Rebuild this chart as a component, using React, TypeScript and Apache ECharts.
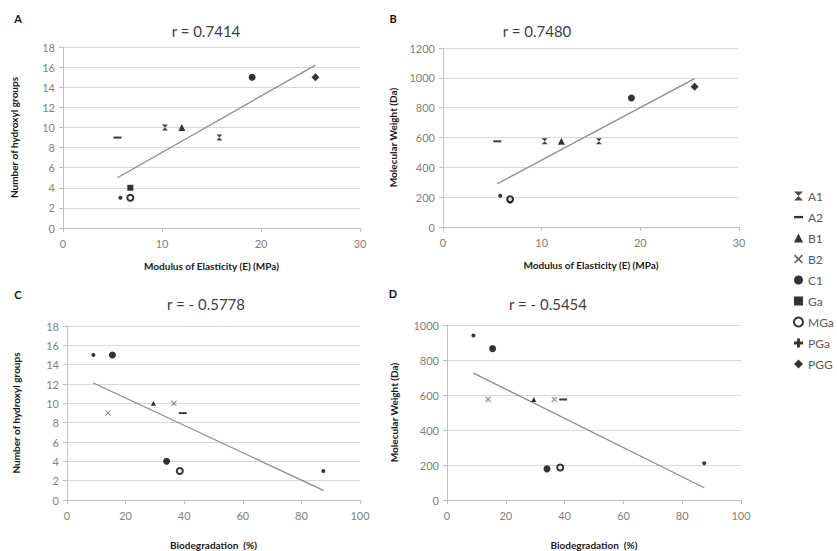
import React, { useEffect, useRef } from "react";
import * as echarts from "echarts";

// ---- data ----
const groups = ["A1", "A2", "B1", "B2", "C1", "Ga", "MGa", "PGa", "PGG"];
const modulus = [10.3, 5.5, 12.0, 15.8, 19.1, 6.8, 6.8, 5.8, 25.5]; // MPa
const hydroxyl = [10, 9, 10, 9, 15, 4, 3, 3, 15];
const molWeight = [575, 575, 575, 575, 865, 178, 186, 210, 940]; // Da
const biodeg = [36.5, 39.5, 29.5, 14.0, 15.5, 34.0, 38.5, 87.5, 9.0]; // %

const trendA = [[5.5, 5.0], [25.5, 16.2]];
const trendB = [[5.5, 290], [25.5, 995]];
const trendC = [[9.0, 12.1], [87.5, 1.0]];
const trendD = [[9.0, 725], [87.5, 70]];

const titles = ["r = 0.7414", "r = 0.7480", "r = - 0.5778", "r = - 0.5454"];
const letters = ["A", "B", "C", "D"];
const xNames = [
  "Modulus of Elasticity (E) (MPa)",
  "Modulus of Elasticity (E) (MPa)",
  "Biodegradation  (%)",
  "Biodegradation  (%)",
];
const yNames = [
  "Number of hydroxyl groups",
  "Molecular Weight (Da)",
  "Number of hydroxyl groups",
  "Molecular Weight (Da)",
];

// ---- styling ----
const FONT = "Lato, 'Open Sans', sans-serif";
const STAR = "path://M0,0L10,0L0,10L10,10Z";
const XMARK =
  "path://M0,1.4L1.4,0L5,3.6L8.6,0L10,1.4L6.4,5L10,8.6L8.6,10L5,6.4L1.4,10L0,8.6L3.6,5Z";
const PLUS = "path://M3.4,0H6.6V3.4H10V6.6H6.6V10H3.4V6.6H0V3.4H3.4Z";
const DASH = "path://M0,0M10,10M0,3.8H10V6.4H0Z";

type Mk = { symbol: string; size: number | number[]; color: string; empty?: boolean };
const legendMarks: Record<string, Mk> = {
  A1: { symbol: STAR, size: 8, color: "#222" },
  A2: { symbol: DASH, size: 9, color: "#000" },
  B1: { symbol: "triangle", size: 9, color: "#000" },
  B2: { symbol: XMARK, size: 8, color: "#444" },
  C1: { symbol: "circle", size: 9, color: "#000" },
  Ga: { symbol: "rect", size: 8, color: "#000" },
  MGa: { symbol: "circle", size: 9, color: "#000", empty: true },
  PGa: { symbol: PLUS, size: 9, color: "#000" },
  PGG: { symbol: "diamond", size: 9, color: "#000" },
};

// panel-specific marker rendering (as in the reference)
function markFor(panel: number, g: string): Mk {
  const top = panel < 2;
  switch (g) {
    case "A1":
    case "B2":
      return top ? { symbol: STAR, size: 6, color: "#111" } : { symbol: XMARK, size: 6, color: "#777" };
    case "A2":
      return { symbol: DASH, size: 8, color: "#111" };
    case "B1":
      return { symbol: "triangle", size: top ? 7 : 5, color: "#000" };
    case "C1":
      return { symbol: "circle", size: 7, color: "#000" };
    case "Ga":
      return { symbol: panel === 0 ? "rect" : "circle", size: top ? 6 : 7, color: "#000" };
    case "MGa":
      return { symbol: "circle", size: 6, color: "#000", empty: true };
    case "PGa":
      return { symbol: "circle", size: 4, color: "#000" };
    case "PGG":
      return top ? { symbol: "diamond", size: 8, color: "#000" } : { symbol: "circle", size: 4, color: "#000" };
  }
  return legendMarks[g];
}

const grids = [
  { left: 63, top: 47, width: 297, height: 181 },
  { left: 443, top: 48, width: 296, height: 179 },
  { left: 67, top: 326, width: 293, height: 176 },
  { left: 447, top: 325, width: 294, height: 175 },
];
const titlePos = [
  [206, 31],
  [537, 31],
  [206, 304],
  [548, 304],
];
const letterPos = [
  [18, 18],
  [393, 18],
  [18, 294],
  [393, 293],
];
const yNameGap = [44, 45, 46, 48];

export default function App() {
  const ref = useRef<HTMLDivElement>(null);
  useEffect(() => {
    if (!ref.current) return;
    const chart = echarts.init(ref.current, undefined, { renderer: "svg" });

    const xs = [modulus, modulus, biodeg, biodeg];
    const ys = [hydroxyl, molWeight, hydroxyl, molWeight];
    const trends = [trendA, trendB, trendC, trendD];
    const xMax = [30, 30, 100, 100];
    const xInt = [10, 10, 20, 20];
    const yMax = [18, 1200, 18, 1000];
    const yInt = [2, 200, 2, 200];

    const axisLabel = { color: "#808080", fontSize: 11, fontFamily: FONT, formatter: (v: number) => String(v) };
    const nameStyle = { color: "#1a1a1a", fontSize: 10, fontWeight: "bold" as const, fontFamily: FONT };

    const xAxis = grids.map((_, i) => ({
      type: "value",
      gridIndex: i,
      min: 0,
      max: xMax[i],
      interval: xInt[i],
      name: xNames[i],
      nameLocation: "middle",
      nameGap: i < 2 ? 33 : 40,
      nameTextStyle: nameStyle,
      axisLine: { show: true, lineStyle: { color: "#bfbfbf" } },
      axisTick: { show: true, length: 4, lineStyle: { color: "#bfbfbf" } },
      axisLabel: { ...axisLabel, margin: 10 },
      splitLine: { show: false },
    }));
    const yAxis = grids.map((_, i) => ({
      type: "value",
      gridIndex: i,
      min: 0,
      max: yMax[i],
      interval: yInt[i],
      name: yNames[i],
      nameLocation: "middle",
      nameGap: yNameGap[i],
      nameRotate: 90,
      nameTextStyle: nameStyle,
      axisLine: { show: true, lineStyle: { color: "#bfbfbf" } },
      axisTick: { show: true, length: 4, lineStyle: { color: "#bfbfbf" } },
      axisLabel: { ...axisLabel, margin: 8 },
      splitLine: { show: true, lineStyle: { color: "#d9d9d9", width: 1 } },
    }));

    const series: any[] = [];
    grids.forEach((_, p) => {
      series.push({
        type: "line",
        name: "trend" + p,
        xAxisIndex: p,
        yAxisIndex: p,
        data: trends[p],
        showSymbol: false,
        symbol: "none",
        lineStyle: { color: "#8c8c8c", width: 1.3 },
        z: 2,
        silent: true,
      });
      groups.forEach((g, k) => {
        const m = markFor(p, g);
        series.push({
          type: "scatter",
          name: g,
          xAxisIndex: p,
          yAxisIndex: p,
          data: [[xs[p][k], ys[p][k]]],
          symbol: m.symbol,
          symbolSize: m.size,
          itemStyle: m.empty
            ? { color: "#fff", borderColor: m.color, borderWidth: 2 }
            : { color: m.color },
          z: 3,
        });
      });
    });

    const graphic: any[] = [];
    titles.forEach((t, i) => {
      graphic.push({
        type: "text",
        x: titlePos[i][0],
        y: titlePos[i][1],
        style: {
          text: t,
          fill: "#404040",
          font: `15px ${FONT}`,
          align: "center",
          verticalAlign: "middle",
          textAlign: "center",
          textVerticalAlign: "middle",
        },
      });
      graphic.push({
        type: "text",
        x: letterPos[i][0],
        y: letterPos[i][1],
        style: {
          text: letters[i],
          fill: "#111",
          font: `bold 11px ${FONT}`,
          align: "center",
          verticalAlign: "middle",
          textAlign: "center",
          textVerticalAlign: "middle",
        },
      });
    });

    chart.setOption({
      animation: false,
      backgroundColor: "#fff",
      grid: grids.map((g) => ({ ...g, containLabel: false })),
      xAxis,
      yAxis,
      series,
      graphic,
      legend: {
        orient: "vertical",
        left: 788,
        top: 184,
        itemWidth: 9,
        itemHeight: 9,
        itemGap: 7,
        textStyle: { color: "#595959", fontSize: 12, fontFamily: FONT, lineHeight: 14 },
        data: groups.map((g) => {
          const m = legendMarks[g];
          return {
            name: g,
            icon: m.symbol,
            itemStyle: m.empty
              ? { color: "#fff", borderColor: "#000", borderWidth: 2 }
              : { color: m.color, borderWidth: 0 },
          };
        }),
      },
    });
    return () => chart.dispose();
  }, []);
  return (
    <div
      ref={ref}
      style={{ position: "fixed", left: 0, top: 0, width: 837, height: 551, background: "#fff" }}
    />
  );
}
